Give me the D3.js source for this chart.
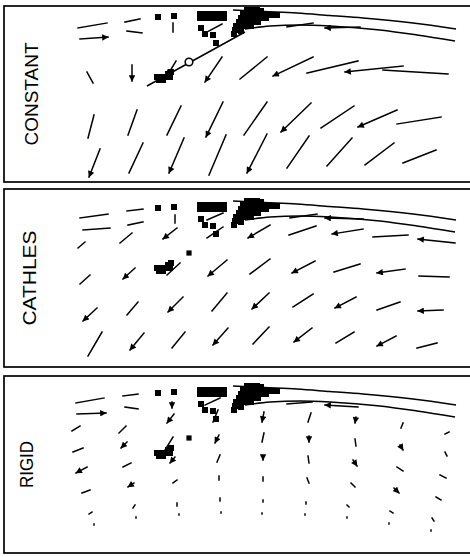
<!DOCTYPE html>
<html>
<head>
<meta charset="utf-8">
<script src="https://cdn.jsdelivr.net/npm/d3@7"></script>
<style>
  body { margin: 0; background: #fff; }
  svg { display: block; }
</style>
</head>
<body>
<svg id="chart" width="470" height="557"></svg>
<script>
// model names, one per panel
const modelNames = ['CONSTANT', 'CATHLES', 'RIGID'];

// flow vectors: [x km, depth km, dx km, ddepth km, arrowhead]
const constantField = [
  [148, 60, 58, -10, 0], [152, 82, 56, -4, 1], [242, 48, 30, -6, 0], [246, 66, 30, 4, 0],
  [338, 50, 0, 18, 0], [166, 148, 12, 22, 0], [256, 134, 0, 32, 1], [344, 126, -18, 30, 1],
  [436, 118, -34, 50, 1], [526, 118, -54, 44, 0], [618, 118, -80, 38, 1], [708, 126, -102, 24, 0],
  [798, 136, -116, 12, 1], [888, 152, -130, -8, 0], [180, 234, -12, 46, 0], [266, 224, -18, 50, 0],
  [354, 216, -28, 58, 0], [438, 208, -34, 70, 1], [526, 208, -46, 66, 0], [614, 210, -60, 58, 1],
  [700, 216, -66, 44, 0], [786, 224, -78, 34, 1], [874, 238, -88, 14, 0], [192, 302, -22, 56, 1],
  [278, 290, -28, 60, 0], [360, 280, -30, 70, 1], [444, 274, -34, 80, 0], [526, 272, -40, 78, 1],
  [610, 276, -44, 64, 0], [696, 280, -50, 56, 0], [780, 290, -58, 44, 0], [864, 304, -66, 26, 0],
  [436, 52, -30, 16, 0], [618, 50, -52, 8, 0], [712, 58, -70, 2, 1]
];

const cathlesField = [
  [152, 58, 56, -8, 0], [158, 82, 54, -4, 0], [246, 44, 32, -4, 0], [248, 72, 30, -6, 0],
  [342, 52, 0, 16, 0], [148, 118, 14, -12, 0], [232, 108, 24, -20, 0], [346, 78, -28, 22, 1],
  [438, 76, -32, 22, 0], [532, 72, -44, 26, 1], [624, 74, -54, 18, 0], [718, 80, -62, 10, 1],
  [808, 92, -70, 4, 0], [902, 108, -74, -8, 1], [626, 50, -54, 8, 0], [718, 60, -76, -2, 1],
  [152, 190, 20, -18, 0], [262, 158, -24, 22, 1], [352, 148, -26, 24, 0], [446, 142, -38, 32, 1],
  [532, 140, -40, 30, 0], [622, 144, -46, 24, 1], [712, 150, -52, 16, 0], [802, 160, -56, 8, 1],
  [890, 176, -60, -2, 0], [186, 238, -28, 26, 1], [268, 226, -22, 26, 0], [358, 216, -30, 30, 1],
  [446, 208, -30, 36, 0], [530, 208, -34, 32, 1], [618, 210, -40, 26, 0], [704, 216, -42, 22, 1],
  [792, 226, -46, 16, 0], [878, 242, -50, 2, 1], [196, 286, -28, 48, 0], [280, 288, -28, 34, 1],
  [362, 286, -26, 32, 0], [448, 278, -30, 34, 1], [530, 276, -32, 34, 0], [616, 278, -36, 28, 1],
  [700, 286, -36, 22, 0], [784, 294, -38, 20, 1], [866, 308, -40, 10, 0], [438, 48, -32, 14, 0]
];

const rigidField = [
  [144, 58, 56, -10, 0], [146, 80, 58, -2, 1], [136, 114, 16, -10, 0], [138, 156, 20, -8, 0],
  [166, 186, -22, 12, 1], [156, 238, 16, -6, 0], [170, 280, 6, -4, 0], [180, 300, 0, 2, 0],
  [238, 44, 30, -4, 0], [242, 66, 26, 4, 0], [230, 118, 14, -14, 0], [246, 136, -12, 12, 1],
  [238, 186, 16, -8, 0], [260, 218, -12, 8, 1], [258, 268, 4, -6, 0], [264, 286, 0, 2, 0],
  [336, 56, 0, 12, 1], [340, 80, -14, 18, 1], [338, 126, -16, 26, 0], [342, 166, -10, 12, 1],
  [346, 212, -8, 6, 0], [346, 258, 0, 6, 0], [350, 280, 0, 2, 0],
  [432, 48, -30, 14, 0], [428, 72, -10, 24, 0], [430, 122, -8, 16, 1], [432, 162, -6, 14, 0],
  [430, 204, 0, 8, 0], [432, 248, 0, 6, 0], [434, 276, 0, 2, 0],
  [520, 76, -4, 20, 1], [520, 118, -4, 18, 0], [518, 164, 0, 8, 1], [518, 206, 0, 8, 0],
  [518, 252, 0, 4, 0], [516, 278, 0, 2, 0],
  [614, 78, -6, 18, 0], [610, 124, 0, 12, 1], [608, 164, 2, 14, 0], [606, 208, 4, 10, 0],
  [604, 256, 0, 4, 0], [602, 280, 0, 2, 0],
  [704, 86, -2, 12, 1], [702, 130, 2, 14, 0], [698, 172, 8, 12, 1], [694, 218, 8, 8, 0],
  [686, 262, 4, 4, 0], [686, 286, 0, 2, 0],
  [798, 98, -4, 10, 0], [792, 142, 6, 10, 1], [786, 186, 12, 8, 0], [780, 228, 10, 10, 1],
  [772, 274, 6, 4, 0], [770, 298, 0, 2, 0],
  [890, 116, -8, 4, 0], [882, 156, 4, 8, 0], [872, 202, 12, 6, 0], [864, 246, 10, 6, 0],
  [856, 288, 4, 6, 0], [854, 312, 0, 2, 0],
  [616, 56, -50, 4, 0], [708, 66, -66, -4, 1]
];

// earthquake hypocentres [x km, depth km]
const hypocenters = [
  [392, 32], [402, 32], [412, 32], [422, 32], [432, 32], [440, 32],
  [392, 40], [402, 40], [412, 40], [422, 40], [432, 40], [440, 40],
  [394, 60], [402, 72], [418, 74], [424, 90],
  [486, 24], [496, 24], [506, 24], [514, 26],
  [478, 32], [488, 32], [498, 32], [508, 32], [518, 32], [528, 34], [540, 34], [546, 34],
  [474, 40], [484, 40], [494, 40], [504, 40], [514, 40], [524, 40],
  [470, 48], [478, 48], [488, 48], [498, 48], [508, 48],
  [464, 56], [474, 56], [484, 56], [494, 56],
  [462, 64], [474, 66], [460, 72],
  [308, 38], [340, 36],
  [306, 158], [314, 158], [322, 158], [310, 164], [318, 164], [328, 152], [334, 148], [332, 158]
];
const markedEvent = [370, 128];

// surface and top of slab [x km, depth km]
const surfaceLine = [[458, 24], [520, 27], [586, 30], [652, 35], [718, 40], [818, 50], [904, 62]];
const slabLine = [[482, 62], [532, 56], [592, 54], [652, 56], [752, 64], [826, 74], [902, 86]];
const sectionLine = [[286, 176], [482, 68]];

const fields = [constantField, cathlesField, rigidField];

// panel frames
const panels = [
  { top: 6, bottom: 182, oy: -2, labelX: 38, labelLen: 103 },
  { top: 189, bottom: 367, oy: 189, labelX: 36, labelLen: 95 },
  { top: 376, bottom: 553, oy: 374, labelX: 33, labelLen: 47 }
];

const svg = d3.select('#chart');

svg.append('defs').append('marker')
  .attr('id', 'head')
  .attr('viewBox', '0 0 10 10')
  .attr('refX', 9)
  .attr('refY', 5)
  .attr('markerUnits', 'userSpaceOnUse')
  .attr('markerWidth', 7.5)
  .attr('markerHeight', 6.5)
  .attr('orient', 'auto')
  .append('path')
  .attr('d', 'M0,0L10,5L0,10z')
  .attr('fill', '#000');

const x = d3.scaleLinear().domain([0, 930]).range([4, 469]);

panels.forEach((p, i) => {
  const y = d3.scaleLinear().domain([0, 352]).range([p.oy, p.oy + 176]);
  const g = svg.append('g').attr('class', 'panel');

  // frame, right side runs off the page
  g.append('rect')
    .attr('x', 4)
    .attr('y', p.top)
    .attr('width', 470)
    .attr('height', p.bottom - p.top)
    .attr('fill', 'none')
    .attr('stroke', '#000')
    .attr('stroke-width', 1.7);

  g.append('text')
    .attr('transform', `translate(${p.labelX},${(p.top + p.bottom) / 2}) rotate(-90)`)
    .attr('text-anchor', 'middle')
    .attr('font-family', 'Liberation Sans, Arial, sans-serif')
    .attr('font-size', '18px')
    .attr('textLength', p.labelLen)
    .attr('lengthAdjust', 'spacingAndGlyphs')
    .text(modelNames[i]);

  const line = d3.line()
    .x(d => x(d[0]))
    .y(d => y(d[1]))
    .curve(d3.curveMonotoneX);

  g.selectAll('path.curve')
    .data([surfaceLine, slabLine])
    .join('path')
    .attr('class', 'curve')
    .attr('d', line)
    .attr('fill', 'none')
    .attr('stroke', '#000')
    .attr('stroke-width', 1.5);

  // hypocentres
  g.selectAll('rect.eq')
    .data(hypocenters)
    .join('rect')
    .attr('class', 'eq')
    .attr('x', d => x(d[0]) - 3)
    .attr('y', d => y(d[1]) - 3)
    .attr('width', 6)
    .attr('height', 6)
    .attr('shape-rendering', 'crispEdges')
    .attr('fill', '#000');

  if (i === 0) {
    g.append('path')
      .attr('d', d3.line().x(d => x(d[0])).y(d => y(d[1]))(sectionLine))
      .attr('stroke', '#000')
      .attr('stroke-width', 1.5);
    g.append('circle')
      .attr('cx', x(markedEvent[0]))
      .attr('cy', y(markedEvent[1]))
      .attr('r', 3.8)
      .attr('fill', '#fff')
      .attr('stroke', '#000')
      .attr('stroke-width', 1.6);
  } else {
    g.append('rect')
      .attr('x', x(markedEvent[0]) - 2.6)
      .attr('y', y(markedEvent[1]) - 2.6)
      .attr('width', 5.2)
      .attr('height', 5.2)
      .attr('fill', '#000');
  }

  // flow vectors
  g.selectAll('line.vec')
    .data(fields[i])
    .join('line')
    .attr('class', 'vec')
    .attr('x1', d => x(d[0]))
    .attr('y1', d => y(d[1]))
    .attr('x2', d => x(d[0] + d[2]))
    .attr('y2', d => y(d[1] + d[3]))
    .attr('stroke', '#000')
    .attr('stroke-width', 1.5)
    .attr('stroke-linecap', 'square')
    .attr('marker-end', d => (d[4] ? 'url(#head)' : null));
});
</script>
</body>
</html>
